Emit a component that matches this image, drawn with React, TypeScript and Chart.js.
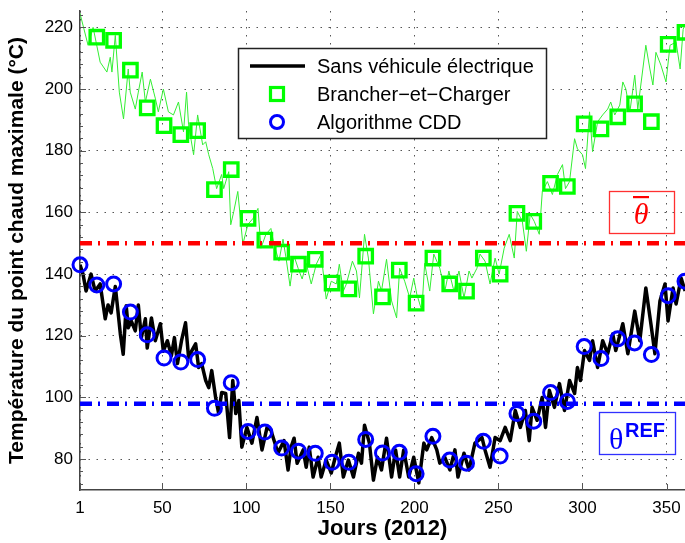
import React, { useEffect, useRef } from "react";
import { Chart, registerables } from "chart.js";

Chart.register(...registerables);

// ---- Data ----
const baseDays = [1, 2.8, 4.6, 7.6, 10, 13, 16, 17.7, 19.5, 22, 23, 25, 26.7, 28.5, 29.7, 31.5, 33.9, 35.7, 37.5, 39.9, 41, 43.5, 45.8, 48.8, 50.6, 53, 55.4, 57.2, 59, 61.4, 63.8, 65.6, 67.4, 69.8, 71.6, 73.4, 75.8, 77.6, 79.4, 81.7, 83.5, 85.3, 87.7, 90, 91.9, 93.7, 95.5, 97.3, 100.3, 103.3, 106.3, 109.3, 112.3, 114.6, 118.8, 122.4, 124.8, 126.6, 128.4, 130.2, 133.8, 135.6, 137.4, 139.7, 142.7, 144.5, 147.5, 150.5, 152.9, 155.3, 157.7, 160.7, 163.7, 166.7, 168.5, 170.3, 173.2, 175.6, 178, 180.4, 183.4, 186.4, 188.8, 191.2, 193.6, 196.6, 199.6, 202.6, 205.6, 207.3, 210.3, 213.3, 215.1, 218.1, 221.1, 224.1, 225.9, 229.5, 232.5, 236, 240.2, 242, 245, 248, 251, 254, 257, 260, 263, 266, 268.3, 270, 273, 276, 278, 280.3, 283.3, 286.3, 289.3, 292.3, 295.3, 297, 298.8, 301.2, 304.2, 306, 309, 312, 315, 318, 319.8, 324, 327, 331.1, 334.1, 337.7, 340.7, 343.1, 346.1, 349.1, 350.9, 353.9, 355.7, 358.7, 361.1, 363];
const baseTemps = [143, 140, 134.5, 140, 134.5, 136.8, 125.5, 130, 127.4, 136, 131, 120.6, 114, 129.7, 122.6, 124.8, 121.6, 130, 119.4, 125.5, 116, 125.8, 118.4, 123.9, 115, 118.4, 113.5, 119.4, 111, 118.4, 124.2, 113, 115, 117.4, 109.7, 111, 105.5, 103.2, 108.7, 100, 94.8, 101.6, 101.3, 87, 105.5, 94.8, 99, 83.9, 90.3, 85.2, 93.5, 83, 90.3, 89.4, 82, 86, 76.5, 83.9, 86.8, 78.7, 83, 77.4, 83.9, 74.2, 80.6, 74.2, 79.7, 75.5, 80.6, 85.2, 74.2, 79.7, 74.2, 81.9, 78.7, 91, 85.2, 73.2, 80.6, 76.5, 86.8, 74.2, 83, 74.2, 83, 74.2, 80.6, 72.3, 85.2, 83, 87, 83, 78.7, 80.6, 76.5, 83, 74.2, 81.9, 76.5, 85.2, 87, 83, 77.4, 87, 86, 90.3, 86, 95.8, 90.3, 95.8, 86, 96.8, 92.6, 100, 90.3, 102.3, 96.8, 104.5, 95.8, 105.5, 101.3, 109.7, 105.5, 115.2, 112, 118.4, 109.7, 118.4, 114.2, 120.6, 115.2, 123.9, 114.2, 128, 118.4, 135.5, 123.9, 114.2, 131.3, 136.8, 124.8, 135.5, 130.3, 138.7, 134.5, 138];

const pevDays = [1, 5.8, 8.8, 13, 17, 19, 20, 22, 24.4, 26.9, 29.7, 30.9, 33.9, 35.7, 38, 39.9, 42.9, 45.9, 47.6, 50.6, 53.6, 56.6, 59.6, 62.6, 64.4, 65.6, 68.6, 71, 74, 75.8, 77.6, 80, 82.3, 85.3, 86.5, 89.5, 90.7, 92.5, 94.9, 97.9, 100.9, 103.9, 106.9, 108.7, 111.6, 114.6, 116.4, 119.4, 121.8, 123.6, 126, 128.4, 130.8, 133.2, 135.6, 138.6, 141.6, 144.5, 147.5, 150.5, 153.5, 155.3, 157.7, 159.5, 163.1, 165.5, 167.3, 170.3, 172.6, 175.6, 178.6, 180.4, 183.4, 186.4, 189.4, 191.2, 194.2, 197.2, 199.6, 201.4, 204.4, 206.1, 209.1, 211.5, 215.1, 218.1, 220.5, 223.5, 226.5, 229.5, 232.5, 234.2, 237.2, 239, 242, 245, 248, 250.4, 253.4, 256.4, 259.4, 261.2, 264.2, 266.6, 268.9, 271.3, 274.3, 276.1, 279.1, 282.1, 285.1, 288.1, 289.9, 292.3, 295.3, 297, 300, 301.8, 304.2, 306, 309, 312, 315, 316.8, 319.2, 322.2, 324, 325.8, 328.2, 331.1, 332.9, 337.7, 340.1, 341.9, 343.7, 346.7, 349.7, 352.1, 355.7, 358.1, 359.9, 361.7, 363];
const pevTemps = [224.5, 214.2, 220, 208.7, 205.5, 210.3, 205.5, 217.4, 199, 190.3, 206.5, 199, 193.5, 199, 205.5, 195.8, 203.2, 196.8, 192.6, 200, 192.6, 191.6, 195.8, 186.1, 199, 188.4, 178.7, 191.6, 181.9, 182.9, 178.7, 174.2, 167.7, 172.3, 167.7, 173.2, 156, 160.3, 166.8, 149.7, 156.1, 158, 161.3, 148.4, 152.9, 154.8, 149.7, 144.2, 151.3, 145.2, 136.1, 145.8, 141.9, 138.4, 143.5, 136.8, 143.2, 146.5, 131.9, 137.7, 136.8, 143.2, 134.5, 136.8, 144.2, 141, 132.3, 152.9, 145.2, 127.1, 137.7, 134.5, 144.8, 131.3, 125.8, 141.9, 137.7, 132.3, 138.7, 133.5, 128.1, 143.5, 134.5, 146.5, 141.9, 134.5, 141, 134.5, 141, 132.3, 141, 138.7, 141.9, 146.5, 144.2, 136.8, 145.2, 140, 148.4, 152.9, 145.2, 160.3, 157.1, 147.4, 159.4, 157.1, 152.9, 166.8, 170, 165.8, 172.3, 175.5, 167.7, 170, 183.9, 180.6, 178.7, 174.2, 192.6, 179.7, 189.4, 191.6, 193.5, 195.8, 191.6, 194.8, 202.3, 200, 192.6, 204.5, 193.5, 214.2, 206.5, 201.3, 211.9, 207.7, 202.3, 214.2, 215.2, 206.5, 219.4, 221.6, 219];

const markerDays = [1, 11, 21, 31, 41, 51, 61, 71, 81, 91, 101, 111, 121, 131, 141, 151, 161, 171, 181, 191, 201, 211, 221, 231, 241, 251, 261, 271, 281, 291, 301, 311, 321, 331, 341, 351, 361];
const pevMarkerTemps = [null, 216.8, 215.8, 206.1, 193.9, 188.1, 185.2, 186.5, 167.4, 173.9, 158.1, 151, 147.1, 143.2, 144.8, 137.1, 135.2, 145.8, 132.6, 141.3, 130.6, 145.2, 136.8, 134.5, 145.2, 140, 159.7, 157.1, 169.4, 168.4, 188.7, 187.1, 191, 195.2, 189.4, 214.5, 218.4];
const cddMarkerTemps = [143, 136.5, 136.8, 127.7, 120.3, 112.8, 111.5, 112.3, 96.5, 104.8, 89, 88.8, 83.6, 82.6, 81.9, 79, 79, 86.4, 82, 82.2, 75.3, 87.4, 79.7, 78.7, 85.8, 81, 94.8, 92.3, 101.6, 98.7, 116.5, 112.6, 119, 117.7, 113.9, 133, 137.7];

const thetaMax = 150;
const thetaRef = 98;
const xRange = [1, 361];
const yRange = [70, 225.3];
const xTicks = [1, 50, 100, 150, 200, 250, 300, 350];
const yTicks = [80, 100, 120, 140, 160, 180, 200, 220];
const legendLabels = ["Sans véhicule électrique", "Brancher\u2212et\u2212Charger", "Algorithme CDD"];
const xTitle = "Jours (2012)";
const yTitle = "Température du point chaud maximale (°C)";

const SANS = '"Liberation Sans", Arial, Helvetica, sans-serif';
const SERIF = '"Liberation Serif", "Times New Roman", serif';
const GREEN = "#00ff00";
const BLUE = "#0000ff";
const RED = "#ff0000";

const zip = (xs: number[], ys: (number | null)[]) => xs.map((x, i) => ({ x, y: ys[i] }));

const overlay = {
  id: "overlay",
  afterDraw(chart: any) {
    const { ctx, chartArea: ca, scales } = chart;
    const xs = scales.x;
    const ys = scales.y;
    ctx.save();
    // inward tick marks (major + minor on y)
    ctx.strokeStyle = "#555";
    ctx.lineWidth = 1;
    ctx.beginPath();
    for (const v of yTicks) {
      const py = Math.round(ys.getPixelForValue(v)) + 0.5;
      ctx.moveTo(ca.left, py);
      ctx.lineTo(ca.left + 6, py);
    }
    for (let v = 72; v <= 224; v += 4) {
      const py = Math.round(ys.getPixelForValue(v)) + 0.5;
      ctx.moveTo(ca.left, py);
      ctx.lineTo(ca.left + 3, py);
    }
    for (const v of xTicks) {
      const px = Math.round(xs.getPixelForValue(v)) + 0.5;
      ctx.moveTo(px, ca.bottom);
      ctx.lineTo(px, ca.bottom - 6);
    }
    ctx.stroke();

    // legend
    const lx = 238, ly = 48, lw = 308, lh = 90;
    ctx.fillStyle = "#fff";
    ctx.fillRect(lx, ly, lw, lh);
    ctx.strokeStyle = "#222";
    ctx.lineWidth = 1.5;
    ctx.strokeRect(lx + 0.5, ly + 0.5, lw, lh);
    const rows = [66, 94, 122];
    ctx.strokeStyle = "#000";
    ctx.lineWidth = 3.5;
    ctx.beginPath();
    ctx.moveTo(250, rows[0]);
    ctx.lineTo(305, rows[0]);
    ctx.stroke();
    ctx.strokeStyle = GREEN;
    ctx.lineWidth = 3.2;
    ctx.strokeRect(277 - 6.5, rows[1] - 6.5, 13, 13);
    ctx.strokeStyle = BLUE;
    ctx.lineWidth = 3;
    ctx.beginPath();
    ctx.arc(277, rows[2], 6.5, 0, Math.PI * 2);
    ctx.stroke();
    ctx.fillStyle = "#000";
    ctx.font = `20px ${SANS}`;
    ctx.textAlign = "left";
    ctx.textBaseline = "middle";
    legendLabels.forEach((t, i) => ctx.fillText(t, 317, rows[i] + 1));

    // theta-bar annotation (red)
    ctx.strokeStyle = "#ff3030";
    ctx.lineWidth = 1.3;
    ctx.strokeRect(609.5, 191.5, 65, 42);
    ctx.fillStyle = RED;
    ctx.font = `italic 30px ${SERIF}`;
    ctx.textAlign = "center";
    ctx.textBaseline = "alphabetic";
    ctx.fillText("θ", 641, 224);
    ctx.fillRect(633, 196, 16, 2.2);

    // theta-REF annotation (blue)
    ctx.strokeStyle = "#3030ff";
    ctx.strokeRect(599.5, 412.5, 76, 42);
    ctx.fillStyle = BLUE;
    ctx.font = `30px ${SERIF}`;
    ctx.textAlign = "left";
    ctx.fillText("θ", 609, 449);
    ctx.font = `bold 20px ${SANS}`;
    ctx.fillText("REF", 625, 437);
    ctx.restore();
  },
};

export default function App() {
  const ref = useRef<HTMLCanvasElement>(null);
  useEffect(() => {
    const chart = new Chart(ref.current as HTMLCanvasElement, {
      type: "line",
      data: {
        datasets: [
          {
            label: "Seuil max",
            data: [{ x: xRange[0], y: thetaMax }, { x: xRange[1], y: thetaMax }],
            borderColor: RED,
            borderWidth: 4.5,
            borderDash: [12, 6, 2, 7],
            pointRadius: 0,
            order: 1,
          },
          {
            label: "Seuil ref",
            data: [{ x: xRange[0], y: thetaRef }, { x: xRange[1], y: thetaRef }],
            borderColor: BLUE,
            borderWidth: 4.5,
            borderDash: [12, 6, 2, 7],
            pointRadius: 0,
            order: 2,
          },
          {
            label: legendLabels[2],
            data: zip(markerDays, cddMarkerTemps),
            showLine: false,
            pointStyle: "circle",
            pointRadius: 7,
            borderColor: BLUE,
            backgroundColor: "rgba(0,0,0,0)",
            pointBorderWidth: 3,
            clip: false,
            order: 3,
          },
          {
            label: legendLabels[0],
            data: zip(baseDays, baseTemps),
            borderColor: "#000",
            borderWidth: 3.5,
            borderJoinStyle: "round",
            pointRadius: 0,
            order: 4,
          },
          {
            label: legendLabels[1],
            data: zip(markerDays, pevMarkerTemps),
            showLine: false,
            pointStyle: "rect",
            pointRadius: 9.5,
            borderColor: GREEN,
            backgroundColor: "rgba(0,0,0,0)",
            pointBorderWidth: 3.3,
            clip: false,
            order: 5,
          },
          {
            label: "PEV daily",
            data: zip(pevDays, pevTemps),
            borderColor: "#33ee33",
            borderWidth: 1,
            pointRadius: 0,
            order: 6,
          },
        ] as any,
      },
      options: {
        responsive: false,
        devicePixelRatio: 1,
        animation: false,
        events: [],
        layout: { autoPadding: false, padding: { top: 11, left: 0, right: 0, bottom: 0 } },
        plugins: {
          legend: { display: false },
          tooltip: { enabled: false },
        },
        scales: {
          x: {
            type: "linear",
            min: xRange[0],
            max: xRange[1],
            afterBuildTicks: (s: any) => {
              s.ticks = xTicks.map((v) => ({ value: v }));
            },
            afterFit: (s: any) => {
              s.height = 53;
              s.paddingLeft = 0;
              s.paddingRight = 0;
            },
            ticks: {
              color: "#000",
              font: { family: SANS, size: 17 },
              padding: 8,
              maxRotation: 0,
              autoSkip: false,
              callback: (v: any) => String(v),
            },
            grid: { color: "#555", lineWidth: 1, drawTicks: false },
            border: { display: true, color: "#444", width: 1.5, dash: [1.5, 6.5] },
            title: {
              display: true,
              text: xTitle,
              color: "#000",
              font: { family: SANS, size: 22, weight: "bold" },
              padding: { top: 0, bottom: 1 },
            },
          },
          y: {
            type: "linear",
            min: yRange[0],
            max: yRange[1],
            afterBuildTicks: (s: any) => {
              s.ticks = yTicks.map((v) => ({ value: v }));
            },
            afterFit: (s: any) => {
              s.width = 80;
              s.paddingTop = 0;
              s.paddingBottom = 0;
            },
            ticks: {
              color: "#000",
              font: { family: SANS, size: 17 },
              padding: 7,
              autoSkip: false,
              callback: (v: any) => String(v),
            },
            grid: { color: "#555", lineWidth: 1, drawTicks: false },
            border: { display: true, color: "#444", width: 1.5, dash: [1.5, 6.5] },
            title: {
              display: true,
              text: yTitle,
              color: "#000",
              font: { family: SANS, size: 21, weight: "bold" },
              padding: { top: 5, bottom: 0 },
            },
          },
        },
      } as any,
      plugins: [overlay],
    });
    return () => chart.destroy();
  }, []);
  return (
    <canvas
      ref={ref}
      width={685}
      height={543}
      style={{ position: "absolute", left: 0, top: 0, width: 685, height: 543 }}
    />
  );
}
